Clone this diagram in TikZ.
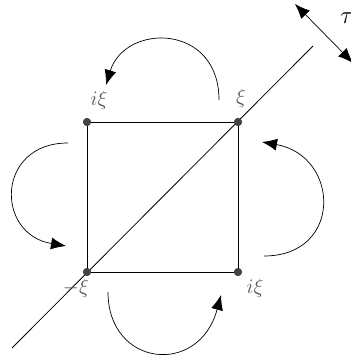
\documentclass[tikz,border=0pt]{standalone}
\usetikzlibrary{arrows.meta}
\definecolor{dotgray}{HTML}{444444}
\definecolor{labgray}{HTML}{555555}
\begin{document}
\begin{tikzpicture}[x=1pt,y=1pt,
  edge/.style={line width=0.9pt,black},
  turn/.style={line width=0.7pt,-{Latex[length=15pt,width=12pt]}},
  vert/.style={circle,fill=dotgray,inner sep=0pt,minimum size=8pt},
  lab/.style={text=labgray,font=\huge}]
\useasboundingbox (0,0) rectangle (350,358);
% vertices
\node[vert] (tl) at (87,236) {};
\node[vert] (tr) at (238,236) {};
\node[vert] (bl) at (87,86) {};
\node[vert] (br) at (238,86) {};
% diagonal ends
\coordinate (d1) at (12,10);
\coordinate (d2) at (313,312);
% square
\draw[edge] (tl.center) -- (tr.center) -- (br.center) -- (bl.center) -- cycle;
\draw[line width=0.8pt] (d1) -- (d2);
% redraw dots on top
\node[vert] at (tl) {};
\node[vert] at (tr) {};
\node[vert] at (bl) {};
\node[vert] at (br) {};
% labels
\node[lab] (ltl) at (99,258) {$i\xi$};
\node[lab] (ltr) at (241,260) {$\xi$};
\node[lab] (lbl) at (76,70) {$-\xi$};
\node[lab] (lbr) at (255,70) {$i\xi$};
% tau arrow
\coordinate (t1) at (295,354);
\coordinate (t2) at (353,295);
\draw[line width=0.7pt,{Latex[length=15pt,width=12pt]}-{Latex[length=15pt,width=12pt]}] (t1) -- (t2);
\node[font=\Huge] (tau) at (347,340) {$\tau$};
% turning arrows
\coordinate (as) at (219,258); \coordinate (ae) at (106,273);
\draw[turn] (as) .. controls (219,335) and (125,335) .. (ae);
\coordinate (bs) at (68,215); \coordinate (be) at (66,112);
\draw[turn] (bs) .. controls (-4,215) and (-5,124) .. (be);
\coordinate (cs) at (108,66); \coordinate (ce) at (221,63);
\draw[turn] (cs) .. controls (108,-9) and (199,-19) .. (ce);
\coordinate (ds) at (264,102); \coordinate (de) at (262,216);
\draw[turn] (ds) .. controls (343,102) and (340,202) .. (de);
\end{tikzpicture}
\end{document}
